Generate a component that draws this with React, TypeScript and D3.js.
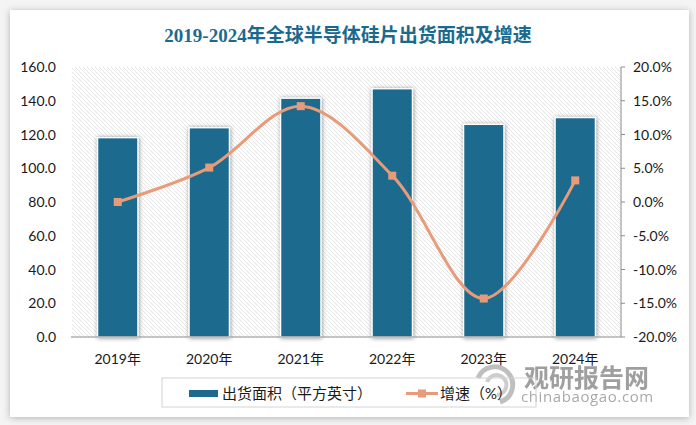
import React from "react";
import * as d3 from "d3";

const years = ["2019年", "2020年", "2021年", "2022年", "2023年", "2024年"];
const area = [118.1, 124.0, 141.5, 147.1, 126.0, 130.0];
const growth = [0.0, 5.1, 14.2, 3.9, -14.3, 3.2];
const leftTicks = [0, 20, 40, 60, 80, 100, 120, 140, 160];
const rightTicks = [-20, -15, -10, -5, 0, 5, 10, 15, 20];

const W = 696;
const H = 425;
const plotL = 72;
const plotR = 621;
const plotT = 67;
const plotB = 337;
const barColor = "#1B6A8E";
const lineColor = "#E89B78";
const axisFont = "Lato, 'Liberation Sans', 'Noto Sans CJK SC', sans-serif";

export default function App() {
  const x = d3
    .scaleBand<string>()
    .domain(years)
    .range([plotL, plotR])
    .paddingInner(0.56)
    .paddingOuter(0.28);
  const yL = d3.scaleLinear().domain([0, 160]).range([plotB, plotT]);
  const yR = d3.scaleLinear().domain([-20, 20]).range([plotB, plotT]);
  const cx = (d: string) => (x(d) ?? 0) + x.bandwidth() / 2;

  const linePath =
    d3
      .line<number>()
      .x((_, i) => cx(years[i]))
      .y((d) => yR(d))
      .curve(d3.curveCatmullRom.alpha(0.5))(growth) || "";

  return (
    <div style={{ position: "fixed", left: 0, top: 0, width: W, height: H }}>
      <svg width={W} height={H} style={{ display: "block" }}>
        <defs>
          <filter id="cardShadow" x="-5%" y="-5%" width="110%" height="110%">
            <feDropShadow dx="0" dy="1" stdDeviation="3.5" floodColor="#000" floodOpacity="0.28" />
          </filter>
          <filter id="barShadow" x="-30%" y="-10%" width="160%" height="120%">
            <feDropShadow dx="0.5" dy="0.5" stdDeviation="2.2" floodColor="#000" floodOpacity="0.45" />
          </filter>
          <pattern id="hatch" width="4" height="4" patternUnits="userSpaceOnUse">
            <rect width="4" height="4" fill="#ffffff" />
            <path d="M-1,-1 L5,5 M-1,3 L1,5 M3,-1 L5,1" stroke="#dadada" strokeWidth="0.7" />
          </pattern>
        </defs>
        <rect x={0} y={0} width={W} height={H} fill="#f4f4f4" />
        <rect x={10} y={10} width={679} height={407} fill="#ffffff" filter="url(#cardShadow)" />

        <text
          x={348}
          y={42}
          textAnchor="middle"
          fill="#1B6A8E"
          fontSize={19}
          fontWeight="bold"
          fontFamily="'Liberation Serif', 'Noto Sans CJK SC', serif"
        >
          2019-2024年全球半导体硅片出货面积及增速
        </text>

        <rect x={plotL} y={plotT} width={plotR - plotL} height={plotB - plotT} fill="url(#hatch)" />

        {years.map((d, i) => (
          <rect
            key={d}
            x={x(d)}
            y={yL(area[i])}
            width={x.bandwidth()}
            height={plotB - yL(area[i])}
            fill={barColor}
            stroke="#ffffff"
            strokeWidth={1.3}
            filter="url(#barShadow)"
          />
        ))}

        <line x1={plotL - 1} x2={plotR} y1={plotB} y2={plotB} stroke="#8c8c8c" strokeWidth={1} />
        <line x1={plotR} x2={plotR} y1={plotT} y2={plotB} stroke="#8c8c8c" strokeWidth={1} />
        {rightTicks.map((t) => (
          <line key={t} x1={plotR} x2={plotR + 4} y1={yR(t)} y2={yR(t)} stroke="#8c8c8c" strokeWidth={1} />
        ))}

        {leftTicks.map((t) => (
          <text key={t} x={56} y={yL(t) + 5} textAnchor="end" fontSize={14} fill="#1a1a1a" fontFamily={axisFont}>
            {t.toFixed(1)}
          </text>
        ))}
        {rightTicks.map((t) => (
          <text key={t} x={633} y={yR(t) + 5} textAnchor="start" fontSize={14} fill="#1a1a1a" fontFamily={axisFont}>
            {t.toFixed(1) + "%"}
          </text>
        ))}
        {years.map((d) => (
          <text key={d} x={cx(d)} y={364} textAnchor="middle" fontSize={14} fill="#1a1a1a" fontFamily={axisFont}>
            {d}
          </text>
        ))}

        <path d={linePath} fill="none" stroke={lineColor} strokeWidth={3} />
        {growth.map((g, i) => (
          <rect key={i} x={cx(years[i]) - 4} y={yR(g) - 4} width={8} height={8} fill={lineColor} />
        ))}

        {/* watermark */}
        <g opacity={0.85}>
          <path d="M478,378 A18,18 0 1 1 500,402" fill="none" stroke="#b5b5b5" strokeWidth={5} />
          <path d="M487,382 A10,10 0 1 1 497,395" fill="none" stroke="#c5c5c5" strokeWidth={4} />
          <text x={524} y={387} fontSize={25} fontWeight="bold" fill="#8f8f8f" fontFamily="'Noto Sans CJK SC', sans-serif">
            观研报告网
          </text>
          <text x={521} y={402} fontSize={15} fill="#9a9a9a" fontFamily="'Open Sans', sans-serif" letterSpacing="0.6">
            chinabaogao.com
          </text>
        </g>

        <rect x={162} y={378} width={374} height={29} fill="none" stroke="#d4d4d4" strokeWidth={1} />
        <rect x={189} y={390} width={29} height={7} fill={barColor} />
        <text x={222} y={399} fontSize={15} fill="#1a1a1a" fontFamily={axisFont}>
          出货面积（平方英寸）
        </text>
        <line x1={406} x2={438} y1={393.5} y2={393.5} stroke={lineColor} strokeWidth={3} />
        <rect x={418} y={389.5} width={8} height={8} fill={lineColor} />
        <text x={440} y={399} fontSize={15} fill="#1a1a1a" fontFamily={axisFont}>
          增速（%）
        </text>
      </svg>
    </div>
  );
}
